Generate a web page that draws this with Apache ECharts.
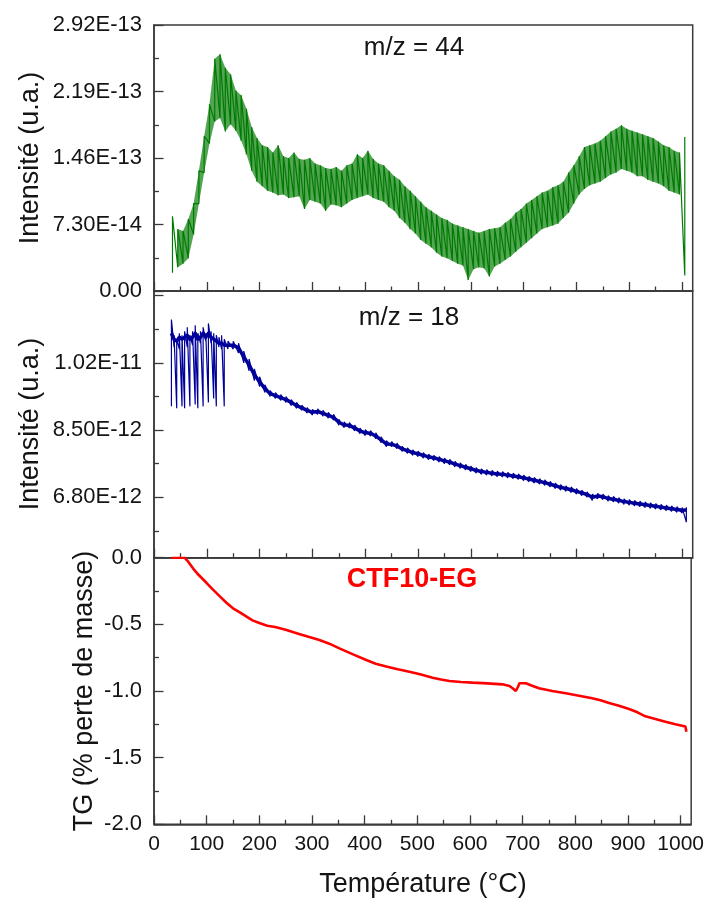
<!DOCTYPE html>
<html><head><meta charset="utf-8">
<script src="https://cdn.jsdelivr.net/npm/echarts@6/dist/echarts.min.js"></script>
<style>html,body{margin:0;padding:0;background:#fff}#c{width:707px;height:899px}</style>
</head><body><div id="c"></div>
<script>
// ---------- x axis ----------
const xMajorTicks = [0,100,200,300,400,500,600,700,800,900,1000];
const xMinorTicks = [50,150,250,350,450,550,650,750,850,950];

// ---------- m/z = 44 (units 1e-14) ----------
const ticks44 = [0, 7.3e-14, 1.46e-13, 2.19e-13, 2.92e-13];
const minor44 = [3.65e-14, 1.095e-13, 1.825e-13, 2.555e-13];
const t44 = [35,45,55,65,75,85,95,105,115,125,135,145,155,165,175,185,195,205,215,225,235,245,255,265,275,285,295,305,315,325,335,345,355,365,375,385,395,405,415,425,435,445,455,465,475,485,495,505,515,525,535,545,555,565,575,585,595,605,615,625,635,645,655,665,675,685,695,705,715,725,735,745,755,765,775,785,795,805,815,825,835,845,855,865,875,885,895,905,915,925,935,945,955,965,975,985,995,1005];
const lo44 = [2.0,2.6,3.0,3.6,6.2,9.6,13.0,16.2,18.6,19.0,17.5,18.3,17.6,16.5,15.0,13.2,12.0,11.5,11.0,10.8,10.5,10.6,10.2,10.3,10.4,9.0,10.0,9.8,9.6,8.8,9.5,9.4,9.2,9.6,10.0,10.2,10.4,10.6,10.2,10.0,9.8,9.2,8.8,8.0,7.5,6.8,6.3,5.6,5.2,4.8,4.2,3.8,3.6,3.3,3.0,2.8,1.2,2.4,2.6,2.5,1.6,2.7,3.0,3.4,3.8,4.3,4.8,5.3,5.8,6.3,6.8,7.0,7.2,7.4,8.0,8.6,9.6,10.6,11.2,11.6,11.8,12.0,12.4,12.8,13.0,13.4,13.2,13.0,12.6,12.6,12.2,12.0,11.8,11.5,11.0,10.8,10.6,1.7];
const hi44 = [8.2,6.8,6.6,7.9,9.6,13.2,17.0,20.5,25.5,26.0,24.5,23.8,22.0,21.5,20.0,18.0,16.8,16.0,15.8,15.2,16.0,14.8,14.6,15.2,14.5,14.4,14.6,14.0,13.8,13.5,13.4,13.6,13.2,13.8,14.0,15.0,14.6,15.4,14.5,14.0,13.8,13.2,12.6,12.2,11.5,11.0,10.4,9.8,9.2,8.8,8.4,8.0,7.8,7.4,7.2,7.0,6.8,6.6,6.4,6.6,6.8,6.9,7.0,7.5,7.9,8.6,9.0,9.6,10.0,10.4,10.8,11.0,11.4,11.6,12.0,13.0,13.8,14.8,15.8,16.0,16.2,16.5,17.0,17.5,17.8,18.2,17.8,17.6,17.4,17.2,17.0,16.8,16.4,16.0,15.8,15.4,15.2,16.9];

// ---------- m/z = 18 (units 1e-12) ----------
const ticks18 = [6.8e-12, 8.5e-12, 1.02e-11];
const majorTicks18 = [6.8e-12, 8.5e-12, 1.02e-11, 1.19e-11];
const minor18 = [5.95e-12, 7.65e-12, 9.35e-12, 1.105e-11];
const t18 = [33,38,43,48,53,58,63,68,73,78,83,88,93,98,103,108,113,118,123,128,133,140,150,160,170,180,190,200,210,220,230,240,250,260,270,280,290,300,310,320,330,340,350,360,370,380,390,400,410,420,430,440,450,460,470,480,490,500,510,520,530,540,550,560,570,580,590,600,610,620,630,640,650,660,670,680,690,700,710,720,730,740,750,760,770,780,790,800,810,820,830,840,850,860,870,880,890,900,910,920,930,940,950,960,970,980,990,1000,1008];
const c18 = [10.95,10.8,10.75,10.85,10.8,10.85,10.9,10.8,10.85,10.95,10.8,10.85,10.95,10.85,10.95,10.85,10.8,10.75,10.7,10.7,10.65,10.65,10.65,10.58,10.35,10.15,9.9,9.72,9.55,9.42,9.37,9.32,9.27,9.2,9.12,9.06,9.0,8.95,8.97,8.92,8.87,8.82,8.7,8.63,8.62,8.55,8.48,8.43,8.42,8.35,8.25,8.15,8.14,8.1,8.02,7.98,7.93,7.9,7.86,7.82,7.8,7.76,7.72,7.69,7.64,7.6,7.56,7.52,7.48,7.45,7.43,7.41,7.39,7.38,7.36,7.34,7.32,7.29,7.26,7.23,7.2,7.17,7.13,7.09,7.05,7.02,6.99,6.95,6.91,6.87,6.8,6.83,6.81,6.77,6.75,6.72,6.69,6.67,6.65,6.63,6.61,6.59,6.57,6.55,6.53,6.51,6.49,6.47,6.48];
const lo18 = [9.1,10.6,9.05,10.55,9.1,9.05,10.6,9.1,10.65,9.15,9.05,10.7,9.1,10.75,9.2,10.7,9.3,9.1,10.6,10.55,9.1,10.55,10.55,10.45,10.2,10.0,9.75,9.6,9.45,9.35,9.3,9.25,9.2,9.12,9.05,9.0,8.93,8.88,8.9,8.85,8.8,8.75,8.62,8.56,8.55,8.48,8.41,8.36,8.35,8.28,8.18,8.08,8.08,8.03,7.96,7.91,7.86,7.83,7.79,7.75,7.73,7.69,7.65,7.62,7.57,7.53,7.49,7.45,7.41,7.38,7.36,7.34,7.32,7.31,7.29,7.27,7.25,7.22,7.19,7.16,7.13,7.1,7.06,7.02,6.98,6.95,6.92,6.88,6.84,6.8,6.72,6.76,6.74,6.7,6.68,6.65,6.62,6.6,6.58,6.56,6.54,6.52,6.5,6.48,6.46,6.44,6.42,6.4,6.17];
const hi18 = [11.3,10.9,10.8,10.95,10.9,11.0,11.1,10.9,11.0,11.15,10.95,11.0,11.1,10.95,11.2,11.0,10.95,10.9,10.85,10.9,10.8,10.75,10.75,10.7,10.5,10.3,10.05,9.85,9.65,9.5,9.45,9.4,9.35,9.27,9.2,9.13,9.07,9.02,9.04,9.0,8.95,8.9,8.77,8.71,8.69,8.63,8.55,8.51,8.49,8.43,8.33,8.23,8.21,8.17,8.09,8.05,8.0,7.97,7.93,7.89,7.86,7.83,7.79,7.76,7.71,7.67,7.63,7.59,7.55,7.52,7.5,7.48,7.46,7.45,7.43,7.41,7.39,7.36,7.33,7.3,7.27,7.24,7.2,7.16,7.12,7.09,7.06,7.02,6.98,6.94,6.88,6.9,6.88,6.84,6.82,6.79,6.76,6.74,6.72,6.7,6.68,6.66,6.64,6.62,6.6,6.58,6.56,6.54,6.55];

// ---------- TG (% perte de masse) ----------
const ticksTG = [0, -0.5, -1.0, -1.5, -2.0];
const minorTG = [-0.25, -0.75, -1.25, -1.75];
const tTG = [33,45,58,65,74,85,100,112,125,138,150,163,175,187,200,215,230,250,265,277,295,314,333,352,378,403,421,441,463,485,507,529,545,561,583,605,633,662,675,681,687,691,694,706,718,731,756,782,807,832,848,864,883,902,918,933,952,971,990,1009,1011];
const vTG = [0,0,0,-0.03,-0.08,-0.13,-0.19,-0.24,-0.29,-0.34,-0.38,-0.41,-0.44,-0.47,-0.49,-0.51,-0.52,-0.54,-0.56,-0.574,-0.595,-0.617,-0.645,-0.68,-0.725,-0.767,-0.795,-0.817,-0.837,-0.855,-0.877,-0.9,-0.913,-0.925,-0.932,-0.937,-0.943,-0.95,-0.962,-0.98,-1.0,-0.97,-0.942,-0.942,-0.96,-0.98,-1.0,-1.017,-1.035,-1.055,-1.07,-1.09,-1.11,-1.135,-1.16,-1.19,-1.21,-1.23,-1.25,-1.267,-1.305];

// ---------- build ----------
const FONT = 'Liberation Sans';
const AX = '#3a3a3a';
const TXT = '#141414';
function band(t, lo, hi, scale) {
  const out = [];
  for (let i = 0; i < t.length; i++) { out.push([t[i], lo[i]*scale]); out.push([t[i], hi[i]*scale]); }
  return out;
}
const pairs = (t, v, scale) => t.map((x, i) => [x, v[i]*scale]);
// quads between consecutive samples (skip the first and last spike samples)
function quads(t, lo, hi, scale) {
  const out = [];
  for (let i = 1; i < t.length - 2; i++) out.push([t[i], lo[i]*scale, hi[i]*scale, t[i+1], lo[i+1]*scale, hi[i+1]*scale]);
  return out;
}
const grids = [
  {left:154, width:538.7, top:25, height:266},
  {left:154, width:538.7, top:291, height:266.7},
  {left:154, width:538.7, top:557.7, height:266.6}
].map(g => Object.assign(g, {show:true, borderColor:AX, borderWidth:1.5, backgroundColor:'transparent'}));

function xAxisMajor(gi, showLabel) {
  return {type:'value', gridIndex:gi, min:0, max:1020, position:'bottom',
    axisLine:{show:true, onZero:false, lineStyle:{color:AX, width:1.5}},
    axisTick:{show:true, inside:true, length:9, customValues:xMajorTicks, lineStyle:{color:AX, width:1.3}},
    axisLabel:{show:showLabel, customValues:xMajorTicks, formatter:v => String(v), margin:9, color:TXT, fontFamily:FONT, fontSize:21},
    splitLine:{show:false}};
}
function xAxisMinor(gi) {
  return {type:'value', gridIndex:gi, min:0, max:1020, position:'bottom',
    axisLine:{show:false, onZero:false},
    axisTick:{show:true, inside:true, length:4.5, customValues:xMinorTicks, lineStyle:{color:AX, width:1.3}},
    axisLabel:{show:false}, splitLine:{show:false}};
}
function yAxisMajor(gi, min, max, tickVals, labelVals, fmt) {
  return {type:'value', gridIndex:gi, min:min, max:max, position:'left',
    axisLine:{show:true, onZero:false, lineStyle:{color:AX, width:1.5}},
    axisTick:{show:true, inside:true, length:9.5, customValues:tickVals, lineStyle:{color:AX, width:1.3}},
    axisLabel:{show:true, customValues:labelVals, formatter:fmt, margin:12, color:TXT, fontFamily:FONT, fontSize:22},
    splitLine:{show:false}};
}
function yAxisMinor(gi, min, max, vals) {
  return {type:'value', gridIndex:gi, min:min, max:max, position:'left',
    axisLine:{show:false, onZero:false},
    axisTick:{show:true, inside:true, length:5, customValues:vals, lineStyle:{color:AX, width:1.3}},
    axisLabel:{show:false}, splitLine:{show:false}};
}
const fmtExp = v => Math.abs(v) < 1e-20 ? '0.00' : Number(v).toExponential(2).toUpperCase();
const fmtFix = v => Number(v).toFixed(1);
const GREEN = '#007a00';
const BLUE = '#00009a';

const option = {
  animation:false,
  backgroundColor:'#fff',
  grid: grids,
  xAxis: [xAxisMajor(0,false), xAxisMinor(0), xAxisMajor(1,false), xAxisMinor(1), xAxisMajor(2,true), xAxisMinor(2)],
  yAxis: [
    yAxisMajor(0, 0, 2.92e-13, ticks44, ticks44, fmtExp), yAxisMinor(0, 0, 2.92e-13, minor44),
    yAxisMajor(1, 5.27e-12, 1.202e-11, majorTicks18, ticks18, fmtExp), yAxisMinor(1, 5.27e-12, 1.202e-11, minor18),
    yAxisMajor(2, -2, 0, ticksTG, ticksTG, fmtFix), yAxisMinor(2, -2, 0, minorTG)
  ],
  series: [
    {type:'custom', xAxisIndex:0, yAxisIndex:0, data:quads(t44, lo44, hi44, 1e-14), encode:{x:[0,3], y:[1,2,4,5]}, silent:true,
     renderItem:(params, api) => {
       const a = api.coord([api.value(0), api.value(1)]), b = api.coord([api.value(3), api.value(4)]);
       const c = api.coord([api.value(3), api.value(5)]), d = api.coord([api.value(0), api.value(2)]);
       return {type:'polygon', shape:{points:[a,b,c,d]}, style:{fill:GREEN, opacity:0.68, stroke:null}};
     }},
    {type:'line', xAxisIndex:0, yAxisIndex:0, data:band(t44, lo44, hi44, 1e-14), symbol:'none', lineStyle:{color:GREEN, width:1.2}},
    {type:'line', xAxisIndex:2, yAxisIndex:2, data:pairs(t18, c18, 1e-12), symbol:'none', lineStyle:{color:BLUE, width:3.5, join:'round'}},
    {type:'line', xAxisIndex:2, yAxisIndex:2, data:band(t18, lo18, hi18, 1e-12), symbol:'none', lineStyle:{color:BLUE, width:1.2}},
    {type:'line', xAxisIndex:4, yAxisIndex:4, data:pairs(tTG, vTG, 1), symbol:'none', lineStyle:{color:'#ff0000', width:2.6}}
  ],
  graphic: [
    {type:'text', x:31, y:158, rotation:Math.PI/2, style:{text:'Intensité (u.a.)', font:'27px "Liberation Sans"', fill:TXT, align:'center', verticalAlign:'middle'}},
    {type:'text', x:31, y:424, rotation:Math.PI/2, style:{text:'Intensité (u.a.)', font:'27px "Liberation Sans"', fill:TXT, align:'center', verticalAlign:'middle'}},
    {type:'text', x:85, y:691, rotation:Math.PI/2, style:{text:'TG (% perte de masse)', font:'27px "Liberation Sans"', fill:TXT, align:'center', verticalAlign:'middle'}},
    {type:'text', x:423, y:885, style:{text:'Température (°C)', font:'27px "Liberation Sans"', fill:TXT, align:'center', verticalAlign:'middle'}},
    {type:'text', x:414, y:48, style:{text:'m/z = 44', font:'26px "Liberation Sans"', fill:TXT, align:'center', verticalAlign:'middle'}},
    {type:'text', x:409, y:318, style:{text:'m/z = 18', font:'26px "Liberation Sans"', fill:TXT, align:'center', verticalAlign:'middle'}},
    {type:'text', x:412, y:580, style:{text:'CTF10-EG', font:'bold 27px "Liberation Sans"', fill:'#ff0000', align:'center', verticalAlign:'middle'}}
  ]
};
const chart = echarts.init(document.getElementById('c'), null, {renderer:'canvas'});
chart.setOption(option);
</script>
</body></html>
